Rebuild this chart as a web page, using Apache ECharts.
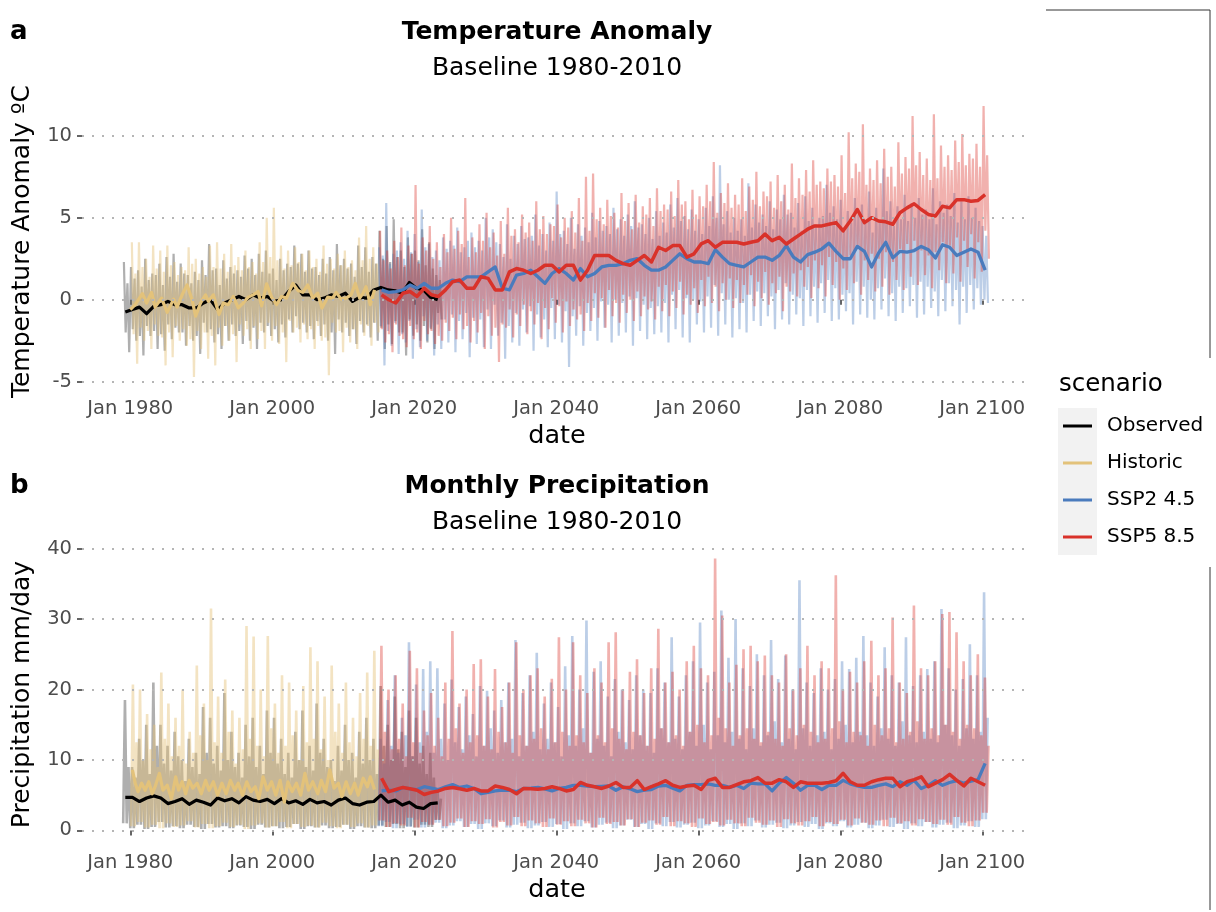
<!DOCTYPE html>
<html>
<head>
<meta charset="utf-8">
<title>Temperature and precipitation scenarios</title>
<script src="https://cdn.jsdelivr.net/npm/echarts@6/dist/echarts.min.js"></script>
<style>
  html, body { margin: 0; padding: 0; background: #ffffff; }
  #chart { width: 1216px; height: 912px; }
</style>
</head>
<body>
<div id="chart"></div>
<script>
// ---------- axis ticks ----------
const xTicks = [1980, 2000, 2020, 2040, 2060, 2080, 2100];
const tempTicks = [-5, 0, 5, 10];
const precTicks = [0, 10, 20, 30, 40];

// ---------- temperature anomaly (ºC) ----------
// observed record, annual mean, 1979-2023
const obsTempStart = 1979;
const obsTempMean = [-0.75, -0.6, -0.45, -0.85, -0.4, -0.3, -0.1, -0.3, -0.3, -0.5,
  -0.5, -0.2, 0.0, -0.6, -0.2, 0.0, 0.2, 0.0, 0.3, 0.1,
  0.2, -0.1, 0.0, 0.5, 0.9, 0.3, 0.3, 0.0, 0.1, 0.3,
  0.2, 0.4, -0.1, 0.15, 0.1, 0.6, 0.75, 0.6, 0.55, 0.4,
  1.05, 0.7, 0.6, 0.15, 0.0];
// observed monthly swing: yearly extreme high / low, then a smaller second swing
const obsTempHi = [2.3, 2.0, 1.8, 2.5, 1.6, 2.2, 2.6, 2.8, 2.2, 1.5,
  1.7, 2.4, 3.4, 1.9, 2.4, 2.0, 1.8, 2.7, 2.5, 2.8,
  3.0, 1.9, 2.5, 2.2, 3.3, 2.8, 3.0, 2.0, 2.5, 2.6,
  3.4, 2.5, 2.2, 3.3, 3.2, 2.6, 4.2, 4.5, 4.9, 3.0,
  3.8, 3.0, 4.3, 3.5, 1.5];
const obsTempLo = [-3.2, -2.5, -3.4, -2.2, -3.0, -3.1, -2.4, -2.0, -2.8, -2.5,
  -3.3, -2.0, -2.6, -3.0, -2.5, -2.2, -2.7, -2.5, -3.0, -2.0,
  -2.2, -2.6, -2.3, -2.0, -1.8, -2.0, -2.4, -2.2, -2.5, -3.3,
  -2.0, -2.2, -2.7, -2.0, -2.3, -2.5, -3.0, -2.7, -2.0, -3.4,
  -2.2, -2.5, -2.6, -3.0, -1.2];
const obsTempHi2 = [1.0, 1.3, 0.8, 1.2, 1.5, 0.9, 1.4, 1.1, 1.6, 1.0,
  1.2, 1.5, 1.8, 0.9, 1.3, 1.6, 1.4, 1.9, 1.5, 1.7,
  1.6, 1.2, 1.8, 2.0, 2.2, 1.7, 1.9, 1.5, 1.6, 1.8,
  2.1, 1.9, 1.4, 2.0, 1.7, 2.2, 2.5, 2.3, 2.6, 2.0,
  2.8, 2.4, 2.1, 1.9, 1.2];
const obsTempLo2 = [-2.0, -1.8, -2.2, -1.6, -1.9, -2.1, -1.5, -1.7, -2.0, -1.6,
  -2.2, -1.4, -1.8, -2.1, -1.6, -1.5, -1.9, -1.3, -1.7, -1.4,
  -1.6, -1.8, -1.5, -1.2, -1.0, -1.4, -1.6, -1.3, -1.5, -2.0,
  -1.2, -1.4, -1.8, -1.3, -1.5, -1.4, -1.7, -1.5, -1.3, -2.0,
  -1.2, -1.5, -1.6, -1.8, -0.8];

// historic model run, 1980-2014
const histTempStart = 1980;
const histTempMean = [[1980.0, -0.6], [1980.7, -0.3], [1981.7, 0.37], [1982.3, -0.2], [1983.0, 0.45],
  [1983.5, -0.45], [1984.4, 0.1], [1985.2, -0.77], [1986.1, 0.04], [1986.6, -0.45],
  [1987.3, 0.3], [1988.0, 0.9], [1988.7, 0.0], [1989.2, -1.0], [1989.9, -0.2],
  [1990.6, 0.3], [1991.0, -0.1], [1991.7, 0.3], [1992.5, -0.9], [1993.1, -0.2],
  [1993.8, -0.3], [1994.5, 0.2], [1995.2, -0.5], [1995.9, -0.2], [1996.6, 0.16],
  [1997.3, 0.3], [1998.0, 0.5], [1998.5, -0.37], [1999.2, 0.97], [1999.9, 0.16],
  [2000.6, -0.3], [2001.3, 0.2], [2002.0, 0.1], [2002.9, 1.0], [2003.6, 0.57],
  [2004.3, 0.45], [2005.0, 0.9], [2005.7, 0.1], [2006.4, 0.4], [2007.0, -0.5],
  [2007.8, 0.16], [2008.5, 0.1], [2009.0, 0.45], [2009.7, 0.04], [2010.4, 0.1],
  [2011.1, 0.3], [2011.7, 1.0], [2012.3, 0.1], [2012.8, 0.4], [2013.2, 0.8],
  [2013.8, -0.3], [2014.4, 0.6]];
const histTempHi = [3.5, 3.5, 2.5, 3.3, 3.0, 3.3, 2.3, 2.0, 3.2, 2.5,
  2.0, 3.3, 3.5, 2.8, 3.4, 2.6, 3.0, 2.3, 3.5, 5.0,
  5.6, 3.3, 3.0, 3.2, 2.8, 3.0, 2.5, 3.3, 2.5, 2.8,
  3.0, 2.4, 3.8, 4.5, 3.2];
const histTempLo = [-3.9, -2.5, -3.0, -2.2, -4.0, -3.5, -2.5, -2.8, -4.7, -3.0,
  -3.6, -4.0, -2.8, -2.5, -3.8, -2.2, -3.0, -2.4, -3.0, -2.5,
  -2.7, -3.8, -2.0, -2.6, -2.4, -3.0, -2.5, -4.6, -2.0, -3.2,
  -2.6, -3.0, -2.2, -2.8, -2.0];
const histTempHi2 = [1.6, 2.0, 1.4, 1.9, 1.7, 2.1, 1.5, 1.8, 2.2, 1.6,
  1.4, 2.0, 1.9, 1.7, 2.1, 1.8, 2.0, 1.6, 2.3, 2.6,
  2.4, 1.9, 2.1, 2.3, 1.8, 2.0, 1.7, 2.2, 1.9, 2.1,
  2.0, 1.8, 2.4, 2.5, 2.2];
const histTempLo2 = [-2.1, -1.7, -1.9, -1.5, -2.3, -2.0, -1.6, -1.8, -2.4, -1.9,
  -2.0, -2.2, -1.7, -1.6, -2.1, -1.5, -1.8, -1.6, -1.9, -1.4,
  -1.6, -2.0, -1.3, -1.7, -1.5, -1.8, -1.6, -2.3, -1.4, -1.9,
  -1.7, -1.8, -1.5, -1.6, -1.4];

// scenario projections, 2015-2100
const projStart = 2015;
const ssp245TempMean = [0.6, 0.45, 0.5, 0.6, 0.9, 0.7, 1.0, 0.7, 0.7, 1.0,
  1.2, 1.1, 1.4, 1.4, 1.4, 1.7, 2.0, 0.7, 0.6, 1.5,
  1.6, 1.8, 1.4, 1.0, 1.6, 1.9, 1.6, 1.2, 1.9, 1.4,
  1.6, 2.0, 2.1, 2.1, 2.2, 2.4, 2.5, 2.1, 1.8, 1.8,
  2.0, 2.4, 2.8, 2.5, 2.3, 2.3, 2.2, 3.05, 2.6, 2.2,
  2.1, 2.0, 2.3, 2.6, 2.6, 2.4, 2.7, 3.3, 2.6, 2.3,
  2.75, 2.9, 3.1, 3.45, 2.95, 2.5, 2.5, 3.25, 2.95, 2.0,
  2.85, 3.5, 2.55, 2.95, 2.9, 3.0, 3.25, 3.05, 2.55, 3.35,
  3.2, 2.7, 2.9, 3.1, 2.9, 1.8];
const ssp245TempHi = [3.2, 5.9, 2.8, 3.5, 4.2, 4.0, 5.5, 3.4, 3.0, 3.8,
  3.6, 4.4, 3.2, 4.1, 3.6, 5.0, 4.3, 3.4, 4.6, 3.9,
  4.5, 3.8, 5.2, 4.0, 4.7, 6.6, 4.2, 5.0, 4.6, 4.4,
  5.3, 4.8, 4.5, 5.6, 4.9, 5.2, 6.0, 4.6, 5.0, 5.4,
  4.7, 5.8, 6.2, 5.1, 5.5, 4.9, 5.6, 6.3, 8.2, 5.4,
  5.0, 4.9, 7.1, 5.8, 5.2, 6.0, 5.5, 6.4, 5.3, 5.9,
  6.3, 5.6, 5.0, 7.0, 5.7, 6.1, 5.4, 6.2, 5.8, 6.6,
  5.6, 8.0, 6.0, 5.7, 6.4, 5.9, 6.2, 5.5, 6.8, 6.0,
  5.8, 6.5, 6.0, 6.3, 5.6, 4.5];
const ssp245TempLo = [-4.0, -2.8, -3.3, -2.6, -3.6, -2.9, -2.5, -3.4, -3.0, -2.6,
  -3.2, -2.4, -3.5, -2.7, -2.9, -3.0, -2.2, -3.6, -2.6, -2.8,
  -2.0, -3.1, -2.3, -2.9, -2.4, -2.6, -4.1, -2.2, -2.8, -1.9,
  -2.5, -1.7, -2.6, -2.2, -2.0, -2.8, -1.9, -2.4, -2.1, -2.0,
  -2.6, -1.8, -2.3, -2.6, -1.5, -2.0, -1.7, -2.2, -1.5, -2.3,
  -1.8, -2.0, -1.3, -1.6, -1.0, -1.8, -1.2, -1.5, -0.9, -1.6,
  -1.0, -1.4, -0.8, -1.3, -1.2, -0.7, -1.5, -0.9, -1.1, -1.2,
  -0.6, -1.0, -1.3, -0.8, -0.4, -1.1, -0.9, -0.5, -1.0, -0.7,
  -0.4, -1.5, -0.8, -0.6, -0.3, -0.2];
const ssp245TempHi2 = [2.7, 2.2, 3.0, 2.5, 2.9, 2.3, 3.2, 2.6, 2.4, 3.1,
  3.3, 2.9, 3.6, 3.2, 3.0, 3.8, 3.5, 2.6, 2.5, 3.4,
  3.7, 3.9, 3.3, 3.0, 3.6, 4.0, 3.4, 3.1, 3.9, 3.5,
  3.8, 4.2, 4.0, 4.3, 3.9, 4.5, 4.4, 4.0, 3.7, 3.9,
  4.1, 4.4, 4.8, 4.3, 4.2, 4.0, 4.5, 5.0, 4.6, 4.1,
  4.2, 3.9, 4.4, 4.7, 4.5, 4.3, 4.9, 5.2, 4.4, 4.2,
  4.8, 4.6, 5.1, 5.3, 4.9, 4.4, 4.7, 5.2, 4.8, 4.1,
  4.9, 5.4, 4.5, 4.9, 4.8, 5.0, 5.2, 4.9, 4.6, 5.3,
  5.1, 4.7, 4.9, 5.0, 4.8, 3.9];
const ssp245TempLo2 = [-1.6, -1.9, -1.4, -2.1, -1.3, -1.8, -1.0, -1.7, -1.5, -1.2,
  -0.9, -1.3, -0.8, -1.1, -1.2, -0.6, -0.3, -1.4, -1.6, -0.8,
  -0.6, -0.4, -0.9, -1.2, -0.5, -0.3, -0.7, -1.0, -0.4, -0.8,
  -0.5, -0.1, -0.3, 0.0, -0.2, 0.2, 0.1, -0.3, -0.5, -0.4,
  -0.2, 0.3, 0.6, 0.1, 0.0, -0.1, 0.2, 0.9, 0.4, 0.0,
  0.1, -0.2, 0.3, 0.5, 0.4, 0.2, 0.6, 1.0, 0.3, 0.1,
  0.6, 0.8, 1.0, 1.2, 0.7, 0.3, 0.4, 1.1, 0.8, 0.0,
  0.7, 1.3, 0.4, 0.8, 0.7, 0.9, 1.1, 0.8, 0.5, 1.2,
  1.0, 0.6, 0.8, 0.9, 0.7, 0.0];
const ssp585TempMean = [0.3, 0.0, -0.2, 0.4, 0.5, 0.2, 0.7, 0.3, 0.2, 0.6,
  1.1, 1.2, 0.7, 0.7, 1.4, 1.3, 0.6, 0.6, 1.7, 1.9,
  1.8, 1.6, 1.8, 2.1, 2.1, 1.7, 2.1, 2.1, 1.2, 1.8,
  2.7, 2.7, 2.7, 2.4, 2.2, 2.1, 2.4, 2.7, 2.3, 3.2,
  3.0, 3.3, 3.3, 2.6, 2.8, 3.4, 3.6, 3.2, 3.5, 3.5,
  3.5, 3.4, 3.5, 3.6, 4.0, 3.6, 3.8, 3.4, 3.7, 4.0,
  4.3, 4.5, 4.5, 4.6, 4.7, 4.2, 4.8, 5.5, 4.7, 5.0,
  4.8, 4.75, 4.6, 5.3, 5.6, 5.85, 5.5, 5.2, 5.1, 5.7,
  5.6, 6.1, 6.1, 6.0, 6.05, 6.4];
const ssp585TempHi = [4.2, 3.0, 3.6, 4.4, 3.3, 7.0, 3.8, 4.5, 3.5, 4.0,
  5.0, 4.2, 6.2, 3.8, 4.6, 5.3, 4.1, 4.8, 5.6, 4.3,
  5.2, 4.7, 6.0, 5.1, 4.6, 5.8, 5.0, 5.4, 6.2, 7.5,
  7.7, 5.6, 6.1, 5.3, 6.5, 5.9, 6.4, 5.7, 6.2, 6.8,
  5.8, 6.6, 7.3, 6.0, 6.7, 6.3, 7.0, 8.4, 6.5, 7.1,
  6.4, 7.4, 6.9, 7.8, 6.6, 7.2, 7.6, 7.0, 8.3, 7.4,
  7.9, 8.5, 7.2, 8.0, 7.6, 8.8, 10.2, 8.3, 10.7, 8.0,
  8.5, 9.2, 8.1, 9.6, 8.7, 11.2, 9.0, 8.6, 11.3, 9.4,
  8.8, 9.7, 10.1, 8.9, 9.5, 11.8];
const ssp585TempLo = [-2.6, -3.2, -2.2, -2.9, -2.4, -3.0, -2.1, -2.7, -2.5, -1.9,
  -2.4, -1.8, -2.6, -2.0, -3.0, -2.2, -3.8, -1.7, -2.3, -1.6,
  -2.1, -1.5, -2.4, -1.8, -1.4, -2.0, -1.6, -1.2, -1.9, -1.3,
  -1.1, -1.7, -1.0, -1.4, -0.8, -1.3, -1.0, -0.6, -1.2, -0.7,
  -1.0, -0.5, -0.9, -0.3, -0.8, -0.4, -0.2, -0.7, 0.0, -0.5,
  -0.2, 0.3, -0.4, 0.1, -0.3, 0.4, -0.7, 0.5, 0.2, 0.8,
  0.1, 0.7, 0.2, 0.9, 0.0, 0.6, 1.0, 0.3, 1.2, 0.5,
  0.8, 0.3, 1.2, 0.6, 1.4, 0.9, 1.5, 0.7, 1.8, 1.0,
  1.6, 1.1, 2.0, 1.3, 1.7, 2.5];
const ssp585TempHi2 = [2.4, 1.9, 2.6, 2.1, 2.8, 2.2, 3.0, 2.5, 2.0, 2.9,
  3.1, 3.4, 2.6, 2.9, 3.6, 3.2, 2.7, 2.8, 3.9, 3.5,
  4.1, 3.6, 4.3, 4.0, 4.5, 3.8, 4.4, 4.1, 3.6, 4.2,
  4.9, 4.6, 5.1, 4.4, 4.8, 4.3, 4.7, 5.2, 4.5, 5.4,
  5.5, 5.1, 5.8, 4.9, 5.2, 5.7, 6.0, 5.3, 5.9, 5.6,
  5.8, 5.4, 6.1, 5.7, 6.3, 5.6, 6.0, 5.5, 6.2, 6.4,
  6.6, 7.0, 6.8, 7.2, 6.9, 6.5, 7.4, 7.8, 7.0, 7.3,
  7.1, 7.5, 6.9, 7.7, 8.0, 8.2, 7.6, 7.3, 7.4, 8.1,
  7.9, 8.4, 8.2, 8.6, 8.1, 8.8];
const ssp585TempLo2 = [-1.8, -2.1, -1.5, -2.4, -1.6, -2.0, -1.3, -1.9, -2.2, -1.4,
  -1.1, -0.9, -1.6, -1.3, -0.8, -1.0, -1.7, -1.5, -0.6, -0.9,
  -0.3, -0.7, -0.2, -0.5, 0.1, -0.4, -0.1, -0.6, -0.9, -0.2,
  0.4, 0.1, 0.6, -0.2, 0.3, 0.0, 0.5, 0.2, -0.1, 0.8,
  0.9, 0.5, 1.1, 0.3, 0.7, 1.2, 1.4, 0.8, 1.0, 1.3,
  1.2, 0.9, 1.5, 1.1, 1.7, 1.0, 1.4, 0.8, 1.6, 1.8,
  2.0, 2.4, 2.1, 2.6, 2.3, 1.9, 2.7, 3.1, 2.4, 2.8,
  2.5, 2.9, 2.3, 3.1, 3.4, 3.6, 3.0, 2.7, 2.9, 3.5,
  3.3, 3.8, 3.6, 4.0, 3.5, 4.2];

// ---------- precipitation (mm/day) ----------
const obsPrecStart = 1979;
const obsPrecMean = [4.7, 4.7, 4.1, 4.6, 4.9, 4.6, 3.8, 4.1, 4.5, 3.7,
  4.3, 4.0, 3.6, 4.6, 4.2, 4.5, 3.9, 4.8, 4.3, 4.1,
  4.4, 3.8, 4.5, 3.9, 4.2, 3.7, 4.4, 3.9, 4.1, 3.6,
  4.3, 4.6, 3.8, 3.6, 4.0, 4.1, 5.0, 4.0, 4.3, 3.6,
  4.0, 3.3, 3.1, 3.8, 3.9];
const obsPrecHi = [18.5, 9.0, 13.0, 15.0, 21.0, 15.0, 12.0, 14.0, 10.0, 13.0,
  11.0, 17.5, 16.0, 12.0, 19.5, 14.0, 11.0, 15.0, 16.0, 12.0,
  17.0, 16.0, 13.0, 11.0, 14.0, 17.0, 12.0, 18.0, 13.0, 10.0,
  12.0, 15.0, 11.0, 14.0, 16.0, 13.0, 20.5, 15.0, 19.0, 14.0,
  17.0, 16.0, 12.0, 11.0, 6.0];
const obsPrecMid = [9.0, 7.5, 10.0, 8.0, 12.0, 9.5, 8.5, 10.5, 7.0, 9.0,
  8.0, 11.0, 9.5, 8.5, 10.0, 9.0, 7.5, 10.5, 9.0, 8.0,
  11.0, 9.5, 8.0, 7.5, 10.0, 9.0, 8.5, 11.0, 9.0, 7.0,
  8.5, 10.0, 7.5, 9.5, 10.0, 8.0, 12.0, 10.0, 11.5, 9.0,
  10.5, 9.5, 8.0, 7.5, 4.5];
const obsPrecLo = [1.0, 0.3, 0.8, 0.2, 0.5, 1.2, 0.4, 0.6, 0.3, 0.8,
  0.5, 0.2, 0.9, 0.4, 0.6, 0.3, 0.7, 0.5, 0.2, 0.8,
  0.4, 0.6, 0.3, 0.5, 0.9, 0.2, 0.6, 0.4, 0.7, 0.3,
  0.5, 0.8, 0.2, 0.6, 0.4, 0.3, 0.7, 0.5, 0.9, 0.3,
  0.6, 0.4, 0.8, 0.5, 1.5];

const histPrecStart = 1980;
const histPrecMean = [[1980.3, 8.6], [1980.7, 6.7], [1981.1, 5.5], [1981.6, 6.7], [1982.1, 5.7],
  [1982.6, 6.9], [1983.1, 5.2], [1983.5, 6.2], [1984.1, 8.1], [1984.6, 5.7],
  [1985.2, 6.4], [1985.8, 4.5], [1986.4, 7.6], [1986.8, 5.7], [1987.3, 6.9],
  [1987.8, 5.2], [1988.3, 7.1], [1988.8, 6.0], [1989.4, 6.7], [1990.0, 5.2],
  [1990.6, 7.1], [1991.1, 5.7], [1991.7, 6.9], [1992.3, 5.0], [1992.9, 6.7],
  [1993.5, 5.2], [1994.1, 7.1], [1994.7, 5.7], [1995.2, 6.7], [1995.8, 5.0],
  [1996.4, 6.9], [1997.0, 5.5], [1997.6, 6.2], [1998.1, 4.5], [1998.7, 7.6],
  [1999.3, 5.7], [1999.9, 6.9], [2000.5, 5.0], [2001.1, 7.1], [2001.7, 4.0],
  [2002.2, 6.9], [2002.8, 5.5], [2003.4, 6.7], [2004.0, 5.0], [2004.6, 8.1],
  [2005.1, 5.7], [2005.7, 6.9], [2006.4, 5.2], [2006.9, 7.1], [2007.5, 5.5],
  [2008.1, 8.6], [2008.7, 6.0], [2009.3, 6.7], [2009.8, 4.8], [2010.4, 6.9],
  [2011.0, 5.2], [2011.6, 6.7], [2012.1, 5.0], [2012.8, 7.4], [2013.4, 6.2],
  [2013.8, 7.6], [2014.4, 5.8]];
const histPrecHi = [20.7, 20.0, 16.5, 15.0, 22.4, 18.0, 16.0, 20.0, 14.0, 23.4,
  18.0, 31.5, 19.0, 21.4, 17.0, 16.0, 29.0, 27.5, 20.0, 27.6,
  18.0, 22.0, 21.0, 17.0, 20.5, 26.0, 24.0, 19.0, 23.4, 18.0,
  21.0, 16.0, 19.5, 22.4, 25.5];
const histPrecMid = [12.5, 10.0, 11.5, 9.0, 13.0, 10.5, 12.0, 9.5, 11.0, 13.5,
  10.0, 12.5, 11.0, 14.0, 9.5, 11.5, 13.0, 12.0, 10.5, 14.5,
  11.0, 12.0, 13.5, 10.0, 12.5, 13.0, 11.5, 10.0, 14.0, 11.0,
  12.5, 10.5, 13.0, 12.0, 11.5];
const histPrecLo = [0.6, 1.2, 0.4, 0.8, 0.3, 1.0, 0.5, 0.7, 1.3, 0.4,
  0.9, 0.3, 0.6, 1.1, 0.5, 0.8, 0.2, 0.7, 1.0, 0.4,
  0.6, 1.2, 0.3, 0.9, 0.5, 0.7, 0.4, 1.1, 0.6, 0.3,
  0.8, 0.5, 1.0, 0.4, 0.7];

const ssp245PrecMean = [5.6, 5.7, 5.6, 6.1, 5.9, 5.8, 6.2, 6.0, 5.8, 6.2,
  6.5, 6.1, 6.3, 5.95, 5.2, 5.4, 5.6, 5.7, 5.7, 5.5,
  5.95, 6.0, 6.1, 5.9, 5.6, 5.95, 6.1, 6.4, 6.4, 6.3,
  6.2, 6.25, 6.3, 5.7, 6.2, 5.9, 5.5, 5.7, 5.8, 6.3,
  6.4, 6.0, 5.6, 6.4, 6.5, 6.5, 6.6, 6.4, 6.4, 6.1,
  6.4, 5.95, 6.7, 6.6, 6.6, 5.6, 6.7, 7.5, 6.7, 5.7,
  6.4, 6.4, 5.8, 6.4, 6.4, 7.1, 6.6, 6.3, 6.1, 6.1,
  6.4, 6.6, 6.2, 6.9, 6.4, 7.1, 5.95, 6.4, 7.05, 6.4,
  6.8, 7.05, 6.7, 7.0, 7.2, 9.5];
const ssp245PrecHi = [13.0, 18.5, 22.0, 16.0, 26.7, 20.7, 22.9, 24.0, 23.0, 18.0,
  21.4, 17.5, 19.0, 16.5, 20.5, 19.8, 17.0, 18.5, 21.0, 27.0,
  19.5, 22.0, 25.2, 18.0, 21.0, 17.5, 23.3, 27.6, 20.0, 29.8,
  22.5, 24.0, 19.0, 21.5, 20.0, 18.5, 22.0, 20.0, 19.5, 23.0,
  21.0, 27.4, 19.0, 22.0, 24.0, 29.5, 21.0, 22.5, 31.2, 24.5,
  30.0, 23.0, 20.5, 25.0, 22.0, 27.0, 21.5, 24.8, 20.0, 35.5,
  21.0, 19.5, 23.0, 20.0, 21.5, 24.0, 22.9, 24.5, 27.6, 21.0,
  19.0, 26.0, 22.0, 21.0, 27.4, 20.5, 22.0, 22.9, 24.0, 31.4,
  23.0, 20.0, 21.5, 26.4, 22.0, 33.8];
const ssp245PrecMid = [9.5, 12.0, 11.0, 13.5, 10.5, 12.5, 14.0, 11.0, 13.0, 10.0,
  12.5, 11.5, 13.5, 10.5, 12.0, 14.5, 11.0, 12.5, 13.0, 10.5,
  12.0, 14.0, 11.5, 13.0, 12.5, 10.5, 13.5, 12.0, 14.5, 11.0,
  13.0, 12.0, 10.5, 14.0, 12.5, 11.5, 13.5, 12.0, 11.0, 14.5,
  12.5, 13.0, 11.5, 14.0, 12.0, 15.0, 11.5, 13.5, 12.5, 14.0,
  13.0, 11.5, 14.5, 12.0, 13.5, 15.5, 12.5, 13.0, 11.5, 14.5,
  12.0, 13.5, 14.0, 11.5, 13.0, 15.0, 12.5, 14.0, 13.5, 12.0,
  14.5, 13.0, 12.0, 15.5, 13.5, 12.5, 14.0, 13.0, 12.5, 15.0,
  13.5, 12.0, 14.5, 13.0, 14.0, 16.0];
const ssp245PrecLo = [0.6, 1.2, 0.3, 0.9, 0.5, 1.5, 0.4, 0.8, 1.1, 0.3,
  0.7, 1.3, 0.5, 0.9, 0.2, 1.0, 0.6, 1.4, 0.4, 0.8,
  1.1, 0.3, 0.7, 1.2, 0.5, 0.9, 0.2, 1.0, 0.6, 1.3,
  0.4, 0.8, 1.1, 0.3, 0.7, 1.5, 0.5, 0.9, 0.2, 1.0,
  0.6, 1.2, 0.4, 0.8, 1.1, 0.3, 0.7, 1.3, 0.5, 0.9,
  0.2, 1.0, 0.6, 1.4, 0.4, 0.8, 1.1, 0.3, 0.7, 1.2,
  0.5, 0.9, 0.2, 1.0, 0.6, 1.3, 0.4, 0.8, 1.1, 0.3,
  0.7, 1.5, 0.5, 0.9, 0.2, 1.0, 0.6, 1.2, 0.4, 0.8,
  1.1, 0.3, 0.7, 1.3, 0.5, 1.6];
const ssp585PrecMean = [7.4, 5.5, 5.8, 6.1, 5.9, 5.7, 5.1, 5.4, 5.6, 5.95,
  6.1, 5.9, 5.7, 5.95, 5.6, 5.6, 6.3, 6.1, 5.8, 5.2,
  5.95, 5.9, 5.85, 5.95, 6.2, 5.95, 5.6, 5.8, 6.8, 6.4,
  6.2, 5.95, 6.3, 6.8, 6.1, 6.1, 7.05, 5.8, 6.2, 6.6,
  7.05, 6.4, 6.1, 6.3, 6.4, 5.8, 7.1, 7.4, 6.1, 6.1,
  6.5, 6.9, 7.05, 7.5, 6.7, 6.7, 7.2, 6.9, 6.1, 6.9,
  6.7, 6.7, 6.7, 6.8, 7.05, 8.1, 6.9, 6.4, 6.4, 6.9,
  7.2, 7.4, 7.4, 6.2, 6.9, 7.2, 7.6, 6.2, 6.7, 7.2,
  7.95, 7.1, 6.3, 7.4, 6.9, 6.4];
const ssp585PrecHi = [26.2, 20.0, 22.0, 18.0, 25.5, 23.0, 17.0, 19.5, 16.0, 21.0,
  28.3, 18.0, 20.0, 23.6, 24.3, 19.0, 22.9, 17.5, 21.0, 26.7,
  20.0, 22.0, 23.0, 19.0, 21.5, 27.4, 20.0, 26.7, 22.0, 19.5,
  23.0, 21.0, 26.7, 28.1, 20.0, 22.5, 24.3, 19.5, 23.0, 28.6,
  21.0, 22.5, 20.0, 24.0, 26.2, 23.0, 22.0, 38.6, 30.5, 21.0,
  23.5, 25.7, 26.2, 24.0, 24.8, 22.0, 21.0, 25.0, 20.0, 23.0,
  26.2, 22.0, 24.0, 23.0, 36.2, 20.0, 22.5, 21.0, 24.0, 26.9,
  22.0, 23.0, 30.2, 21.0, 19.5, 31.9, 23.0, 22.0, 24.0, 30.7,
  31.0, 28.1, 24.0, 22.0, 25.0, 21.7];
const ssp585PrecMid = [14.0, 11.5, 13.0, 10.5, 12.5, 11.0, 13.5, 12.0, 10.5, 13.0,
  14.5, 11.0, 12.5, 13.5, 12.0, 11.5, 14.0, 12.5, 11.0, 13.5,
  12.0, 13.0, 14.5, 11.5, 12.5, 14.0, 12.0, 13.5, 12.5, 11.0,
  13.5, 12.5, 14.5, 13.0, 11.5, 14.0, 13.5, 12.0, 13.0, 14.5,
  12.5, 13.5, 12.0, 14.0, 15.0, 12.5, 13.5, 16.0, 14.5, 12.0,
  13.5, 14.5, 13.0, 12.5, 14.0, 13.0, 12.0, 14.5, 13.5, 15.0,
  14.0, 12.5, 13.0, 14.5, 15.5, 12.5, 14.0, 13.5, 12.0, 15.0,
  13.5, 14.5, 12.5, 13.0, 14.0, 15.5, 13.0, 14.5, 13.5, 15.0,
  14.0, 13.0, 15.0, 14.5, 13.5, 12.0];
const ssp585PrecLo = [1.4, 0.5, 1.0, 0.7, 1.8, 0.4, 1.2, 0.8, 1.5, 0.6,
  1.1, 1.7, 0.5, 1.3, 0.9, 1.6, 0.4, 1.2, 0.7, 1.9,
  0.6, 1.4, 1.0, 0.5, 1.7, 0.8, 1.3, 0.6, 1.5, 1.0,
  0.4, 1.8, 0.9, 1.2, 0.7, 1.6, 0.5, 1.1, 1.4, 0.8,
  1.9, 0.6, 1.3, 1.0, 0.5, 1.7, 0.9, 1.2, 0.7, 1.5,
  1.0, 0.6, 1.8, 1.1, 0.8, 1.4, 0.5, 1.6, 1.0, 0.7,
  1.3, 1.9, 0.6, 1.2, 0.9, 1.5, 0.7, 1.7, 1.1, 0.8,
  1.4, 0.6, 1.8, 1.0, 1.3, 0.7, 1.6, 1.2, 0.9, 1.5,
  0.8, 1.9, 1.1, 0.6, 1.4, 2.5];

// ---------- legend ----------
const scenarioNames = ['Observed', 'Historic', 'SSP2 4.5', 'SSP5 8.5'];
const scenarioColors = ['#000000', '#e3c27a', '#4a7bbd', '#d9322a'];
const scenarioNoise = ['rgba(110,110,110,0.55)', 'rgba(228,194,120,0.45)',
  'rgba(74,123,189,0.37)', 'rgba(217,50,42,0.38)'];

// ---------- helpers turning the arrays into [date, value] points ----------
function yearly(start, vals, offset) {
  return vals.map((v, i) => [start + i + offset, v]);
}
// monthly temperature swing: extreme high, inner low, inner high, extreme low
function swing4(start, hi, lo, hi2, lo2, phase) {
  const out = [];
  hi.forEach((h, i) => {
    out.push([start + i + phase, h]);
    out.push([start + i + phase + 0.25, lo2[i]]);
    out.push([start + i + phase + 0.5, hi2[i]]);
    out.push([start + i + phase + 0.75, lo[i]]);
  });
  return out;
}
// seasonal rainfall swing: wet peak, dry trough, secondary peak, dry trough
function swing3(start, hi, mid, lo, phase) {
  const out = [];
  hi.forEach((h, i) => {
    out.push([start + i + phase, lo[i]]);
    out.push([start + i + phase + 0.25, h]);
    out.push([start + i + phase + 0.5, lo[i]]);
    out.push([start + i + phase + 0.75, mid[i]]);
  });
  return out;
}

const FONT = 'DejaVu Sans';
const AXIS_GREY = '#4d4d4d';

function xAxisFor(gridIndex) {
  return {
    type: 'value', gridIndex: gridIndex, min: 1973.2, max: 2107.0,
    axisLine: { show: false },
    axisTick: { show: true, customValues: xTicks, length: 5, lineStyle: { color: '#333', width: 1.5 } },
    axisLabel: { customValues: xTicks, formatter: v => 'Jan ' + v, color: AXIS_GREY,
      fontFamily: FONT, fontSize: 19.5, margin: 9 },
    splitLine: { show: false },
    name: 'date', nameLocation: 'middle', nameGap: 33,
    nameTextStyle: { fontFamily: FONT, fontSize: 25.5, color: '#000' }
  };
}
function yAxisFor(gridIndex, min, max, ticks, title) {
  return {
    type: 'value', gridIndex: gridIndex, min: min, max: max,
    axisLine: { show: false },
    axisTick: { show: true, customValues: ticks, length: 5, lineStyle: { color: '#333', width: 1.5 } },
    axisLabel: { customValues: ticks, color: AXIS_GREY, fontFamily: FONT, fontSize: 19.5, margin: 10 },
    splitLine: { show: false },
    name: title, nameLocation: 'middle', nameGap: 47,
    nameTextStyle: { fontFamily: FONT, fontSize: 25, color: '#000' }
  };
}

function gridLines(axisIdx, ticks) {
  return {
    type: 'line', xAxisIndex: axisIdx, yAxisIndex: axisIdx, data: [], silent: true, z: 1,
    markLine: {
      silent: true, symbol: 'none', animation: false, label: { show: false },
      lineStyle: { type: [2, 8], color: '#b5b5b5', width: 2 },
      data: ticks.map(v => ({ yAxis: v }))
    }
  };
}
function noise(axisIdx, data, color, width) {
  return {
    type: 'line', xAxisIndex: axisIdx, yAxisIndex: axisIdx, data: data,
    showSymbol: false, symbol: 'none', silent: true, z: 2, animation: false,
    sampling: null, lineStyle: { color: color, width: width, join: 'miter' }
  };
}
function meanLine(axisIdx, data, color, width) {
  return {
    type: 'line', xAxisIndex: axisIdx, yAxisIndex: axisIdx, data: data,
    showSymbol: false, symbol: 'none', silent: true, z: 3, animation: false,
    lineStyle: { color: color, width: width, join: 'round' }
  };
}

const series = [
  gridLines(0, tempTicks),
  noise(0, swing4(obsTempStart, obsTempHi, obsTempLo, obsTempHi2, obsTempLo2, 0.1), scenarioNoise[0], 2.2),
  noise(0, swing4(histTempStart, histTempHi, histTempLo, histTempHi2, histTempLo2, 0.22), scenarioNoise[1], 2.2),
  noise(0, swing4(projStart, ssp245TempHi, ssp245TempLo, ssp245TempHi2, ssp245TempLo2, 0.05), scenarioNoise[2], 2.2),
  noise(0, swing4(projStart, ssp585TempHi, ssp585TempLo, ssp585TempHi2, ssp585TempLo2, 0.18), scenarioNoise[3], 2.2),
  meanLine(0, yearly(obsTempStart, obsTempMean, 0.3), scenarioColors[0], 3.2),
  meanLine(0, histTempMean, scenarioColors[1], 3.2),
  meanLine(0, yearly(projStart, ssp245TempMean, 0.4), scenarioColors[2], 3.3),
  meanLine(0, yearly(projStart, ssp585TempMean, 0.4), scenarioColors[3], 3.5),

  gridLines(1, precTicks),
  noise(1, swing3(obsPrecStart, obsPrecHi, obsPrecMid, obsPrecLo, 0.0), scenarioNoise[0], 2.6),
  noise(1, swing3(histPrecStart, histPrecHi, histPrecMid, histPrecLo, 0.12), scenarioNoise[1], 2.6),
  noise(1, swing3(projStart, ssp245PrecHi, ssp245PrecMid, ssp245PrecLo, 0.0), scenarioNoise[2], 2.6),
  noise(1, swing3(projStart, ssp585PrecHi, ssp585PrecMid, ssp585PrecLo, 0.12), scenarioNoise[3], 2.6),
  meanLine(1, yearly(obsPrecStart, obsPrecMean, 0.3), scenarioColors[0], 3.2),
  meanLine(1, histPrecMean, scenarioColors[1], 3.2),
  meanLine(1, yearly(projStart, ssp245PrecMean, 0.4), scenarioColors[2], 3.3),
  meanLine(1, yearly(projStart, ssp585PrecMean, 0.4), scenarioColors[3], 3.5)
];

// ---------- titles, panel tags, legend and frame ----------
function text(x, y, str, size, weight, align) {
  return { type: 'text', x: x, y: y, silent: true,
    style: { text: str, fontFamily: FONT, fontSize: size, fontWeight: weight || 'normal',
      fill: '#000', align: align || 'left', verticalAlign: 'middle' } };
}
const graphics = [
  text(10, 32, 'a', 26, 'bold'),
  text(557, 32, 'Temperature Anomaly', 25, 'bold', 'center'),
  text(557, 68, 'Baseline 1980-2010', 25, 'normal', 'center'),
  text(10, 486, 'b', 26, 'bold'),
  text(557, 486, 'Monthly Precipitation', 25, 'bold', 'center'),
  text(557, 522, 'Baseline 1980-2010', 25, 'normal', 'center'),
  text(1059, 385, 'scenario', 24.5),
  { type: 'rect', shape: { x: 1058, y: 408, width: 39, height: 147 }, style: { fill: '#f2f2f2' }, silent: true },
  { type: 'line', shape: { x1: 1046, y1: 10, x2: 1210, y2: 10 }, style: { stroke: '#333', lineWidth: 1 }, silent: true },
  { type: 'line', shape: { x1: 1210, y1: 10, x2: 1210, y2: 358 }, style: { stroke: '#333', lineWidth: 1 }, silent: true },
  { type: 'line', shape: { x1: 1210, y1: 567, x2: 1210, y2: 910 }, style: { stroke: '#333', lineWidth: 1 }, silent: true }
];
scenarioNames.forEach((name, i) => {
  const y = 426 + i * 37;
  graphics.push({ type: 'line', shape: { x1: 1063, y1: y, x2: 1092, y2: y },
    style: { stroke: scenarioColors[i], lineWidth: 3 }, silent: true });
  graphics.push(text(1107, y, name, 20));
});

const chart = echarts.init(document.getElementById('chart'), null, { renderer: 'canvas' });
chart.setOption({
  animation: false,
  backgroundColor: '#ffffff',
  grid: [
    { left: 82, top: 93, width: 950, height: 297 },
    { left: 82, top: 545, width: 950, height: 299 }
  ],
  xAxis: [xAxisFor(0), xAxisFor(1)],
  yAxis: [
    yAxisFor(0, -5.5, 12.6, tempTicks, 'Temperature Anomaly ºC'),
    yAxisFor(1, -1.93, 40.5, precTicks, 'Precipitation mm/day')
  ],
  series: series,
  graphic: graphics
});
</script>
</body>
</html>
